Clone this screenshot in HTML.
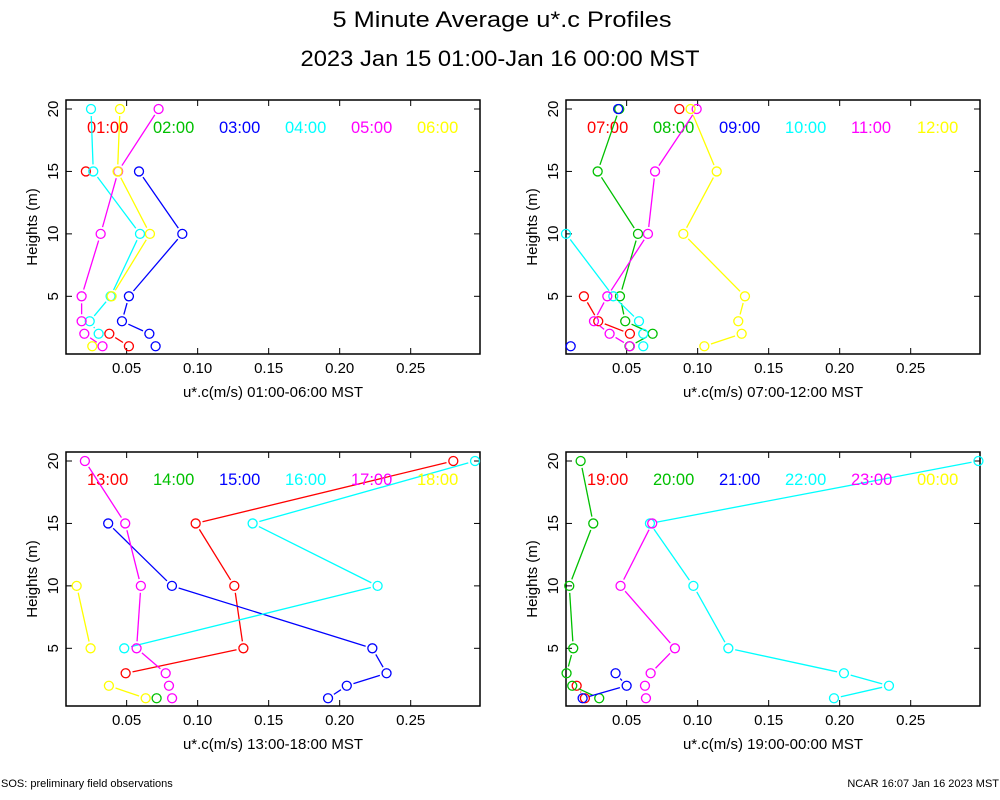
<!DOCTYPE html>
<html><head><meta charset="utf-8"><title>5 Minute Average u*.c Profiles</title>
<style>html,body{margin:0;padding:0;background:#fff}svg{display:block}text{font-family:"Liberation Sans",sans-serif}</style>
</head><body>
<svg id="chart" width="1000" height="800" xmlns="http://www.w3.org/2000/svg">
<text x="502" y="27" font-size="22" text-anchor="middle" textLength="339" lengthAdjust="spacingAndGlyphs">5 Minute Average u*.c Profiles</text>
<text x="500" y="66" font-size="22" text-anchor="middle" textLength="399" lengthAdjust="spacingAndGlyphs">2023 Jan 15 01:00-Jan 16 00:00 MST</text>
<text x="1" y="787" font-size="11">SOS: preliminary field observations</text>
<text x="999" y="787" font-size="11" text-anchor="end">NCAR 16:07 Jan 16 2023 MST</text>
<g id="panels"></g>
</svg>
<script>
const heights = [1, 2, 3, 5, 10, 15, 20];
const xTicks = [0.05, 0.10, 0.15, 0.20, 0.25];
const xTickLabels = ["0.05", "0.10", "0.15", "0.20", "0.25"];
const yTicks = [5, 10, 15, 20];
const colors = ["#ff0000", "#00c000", "#0000ff", "#00ffff", "#ff00ff", "#ffff00"];
const N = null;
const p1Labels = ["01:00", "02:00", "03:00", "04:00", "05:00", "06:00"];
const p1Red = [0.0516, 0.0378, N, N, N, 0.0213, N];
const p1Green = [N, N, N, N, N, N, N];
const p1Blue = [0.0704, 0.066, 0.0467, 0.0516, 0.0892, 0.0587, N];
const p1Cyan = [N, 0.0303, 0.024, 0.0387, 0.0594, 0.0265, 0.0249];
const p1Magenta = [0.033, 0.0202, 0.0183, 0.0183, 0.0317, 0.044, 0.0725];
const p1Yellow = [0.0258, N, N, 0.0394, 0.0664, 0.0436, 0.0453];
const p2Labels = ["07:00", "08:00", "09:00", "10:00", "11:00", "12:00"];
const p2Red = [N, 0.0523, 0.030, 0.0199, N, N, 0.0871];
const p2Green = [0.052, 0.0683, 0.049, 0.0453, 0.058, 0.0296, 0.0448];
const p2Blue = [0.0106, N, N, N, N, N, 0.044];
const p2Cyan = [0.0617, 0.0617, 0.0587, 0.0406, 0.0073, N, N];
const p2Magenta = [0.0523, 0.038, 0.027, 0.0364, 0.065, 0.070, 0.0993];
const p2Yellow = [0.1047, 0.131, 0.1286, 0.1333, 0.0899, 0.1134, 0.095];
const p3Labels = ["13:00", "14:00", "15:00", "16:00", "17:00", "18:00"];
const p3Red = [N, N, 0.0493, 0.1322, 0.1258, 0.0986, 0.28];
const p3Green = [0.0711, N, N, N, N, N, N];
const p3Blue = [0.1918, 0.205, 0.233, 0.223, 0.0819, 0.037, N];
const p3Cyan = [N, N, N, 0.0483, 0.2267, 0.1387, 0.2953];
const p3Magenta = [0.082, 0.0798, 0.0775, 0.057, 0.060, 0.049, 0.0206];
const p3Yellow = [0.0634, 0.0375, N, 0.0246, 0.0148, N, N];
const p4Labels = ["19:00", "20:00", "21:00", "22:00", "23:00", "00:00"];
const p4Red = [0.0206, 0.0148, N, N, N, N, N];
const p4Green = [0.0307, 0.0117, 0.0077, 0.0124, 0.0096, 0.0265, 0.0176];
const p4Blue = [0.019, 0.050, 0.0422, N, N, N, N];
const p4Cyan = [0.196, 0.2347, 0.203, 0.1216, 0.097, 0.0664, 0.2977];
const p4Magenta = [0.0636, 0.0629, 0.0669, 0.084, 0.0457, 0.068, N];
const p4Yellow = [N, N, N, N, N, N, N];
const xTitles = ["u*.c(m/s) 01:00-06:00 MST", "u*.c(m/s) 07:00-12:00 MST", "u*.c(m/s) 13:00-18:00 MST", "u*.c(m/s) 19:00-00:00 MST"];

const panels = [
 {x0:66, y0:100, labels:p1Labels, series:[p1Red,p1Green,p1Blue,p1Cyan,p1Magenta,p1Yellow]},
 {x0:566, y0:100, labels:p2Labels, series:[p2Red,p2Green,p2Blue,p2Cyan,p2Magenta,p2Yellow]},
 {x0:66, y0:452, labels:p3Labels, series:[p3Red,p3Green,p3Blue,p3Cyan,p3Magenta,p3Yellow]},
 {x0:566, y0:452, labels:p4Labels, series:[p4Red,p4Green,p4Blue,p4Cyan,p4Magenta,p4Yellow]}
];
const NS = "http://www.w3.org/2000/svg";
const root = document.getElementById("panels");
function mk(tag, attrs, parent, txt){const e=document.createElementNS(NS,tag);for(const k in attrs)e.setAttribute(k,attrs[k]);if(txt!==undefined)e.textContent=txt;parent.appendChild(e);return e;}
const W=414, H=254, XMIN=0.0073, XMAX=0.2988, YMIN=0.38, YMAX=20.72;
panels.forEach((p,pi)=>{
 const g=mk("g",{},root);
 
 
 const sx=v=>p.x0+(v-XMIN)/(XMAX-XMIN)*W;
 const sy=v=>p.y0+H-(v-YMIN)/(YMAX-YMIN)*H;
 const fr=mk("rect",{x:p.x0,y:p.y0,width:W,height:H,fill:"none",stroke:"#000","stroke-width":1.5},g);
 
 
 xTicks.forEach((t,i)=>{
  const x=sx(t);
  mk("line",{x1:x,x2:x,y1:p.y0+H,y2:p.y0+H-6,stroke:"#000"},g);
  mk("line",{x1:x,x2:x,y1:p.y0,y2:p.y0+6,stroke:"#000"},g);
  const tl=mk("text",{x:x,y:p.y0+H+19,"font-size":15,"text-anchor":"middle"},g,xTickLabels[i]);
  
  
 });
 yTicks.forEach(t=>{
  const y=sy(t);
  mk("line",{x1:p.x0,x2:p.x0+6,y1:y,y2:y,stroke:"#000"},g);
  mk("line",{x1:p.x0+W,x2:p.x0+W-6,y1:y,y2:y,stroke:"#000"},g);
  const tl=mk("text",{x:0,y:0,"font-size":15,"text-anchor":"middle",transform:`translate(${p.x0-8},${y}) rotate(-90)`},g,String(t));
  
  
 });
 const yt=mk("text",{x:0,y:0,"font-size":15,"text-anchor":"middle",transform:`translate(${p.x0-29},${p.y0+H/2}) rotate(-90)`},g,"Heights (m)");
 
 
 const xt=mk("text",{x:p.x0+W/2,y:p.y0+H+43,"font-size":15,"text-anchor":"middle"},g,xTitles[pi]);
 
 
 p.series.forEach((s,si)=>{
  const c=colors[si];
  const sg=mk("g",{},g);
  
  
  const lg=mk("text",{x:p.x0+21+si*66,y:p.y0+33,"font-size":16.5,fill:c},sg,p.labels[si]);
  
  
  for(let i=0;i<s.length-1;i++){
   if(s[i]===null||s[i+1]===null)continue;
   const ax=sx(s[i]),ay=sy(heights[i]),bx=sx(s[i+1]),by=sy(heights[i+1]);
   const dx=bx-ax,dy=by-ay,L=Math.hypot(dx,dy);if(L<14)continue;
   const ux=dx/L*7,uy=dy/L*7;
   const ln=mk("line",{x1:ax+ux,y1:ay+uy,x2:bx-ux,y2:by-uy,stroke:c,"stroke-width":1.3},sg);
   
   
  }
  s.forEach((v,i)=>{
   if(v===null)return;
   const pt=mk("circle",{cx:sx(v),cy:sy(heights[i]),r:4.5,fill:"none",stroke:c,"stroke-width":1.3},sg);
   
   
  });
 });
});
</script>
</body></html>
